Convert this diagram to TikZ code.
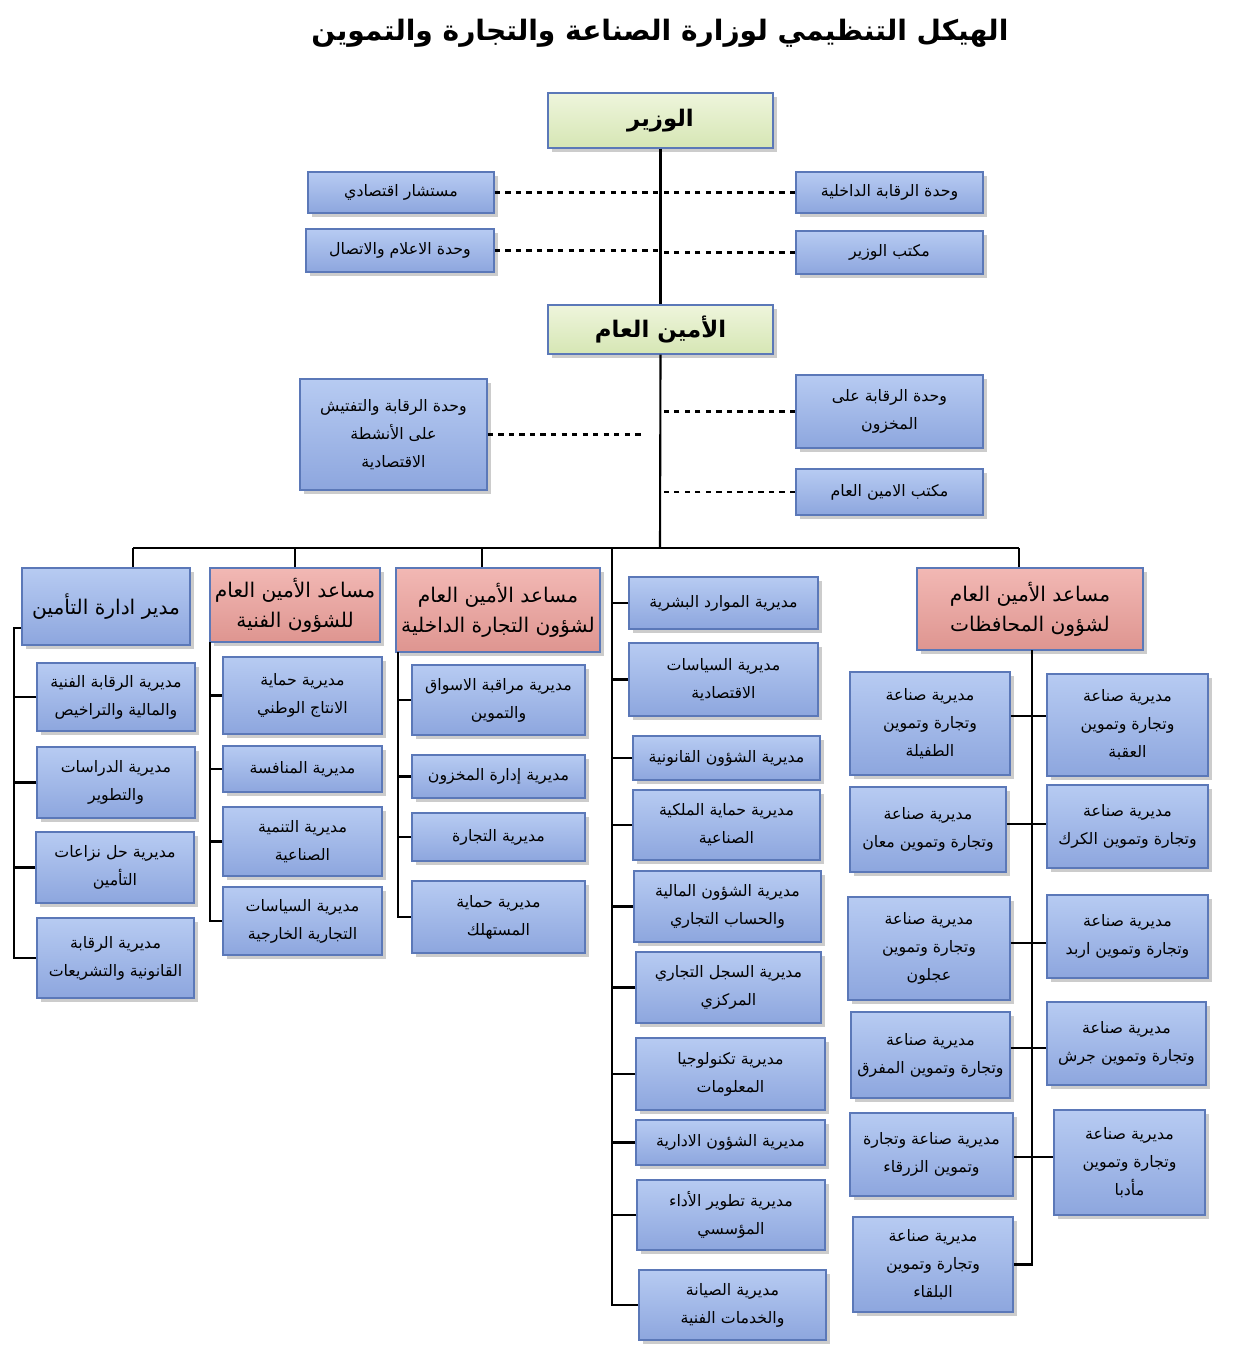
\documentclass[tikz,border=0pt]{standalone}
\usepackage{fontspec}
\newfontfamily\arfont[Script=Arabic]{DejaVu Sans}
\TeXXeTstate=1
\usetikzlibrary{shadows}
\definecolor{boxtop}{HTML}{B7CBF2}
\definecolor{boxbot}{HTML}{8DA6DE}
\definecolor{boxline}{HTML}{5B78B8}
\definecolor{greentop}{HTML}{EEF5DC}
\definecolor{greenbot}{HTML}{D6E6B4}
\definecolor{pinktop}{HTML}{F2B8B4}
\definecolor{pinkbot}{HTML}{DE9590}
\newcommand{\ar}[1]{\beginR #1\endR}
\newcommand{\bx}[7]{\node[#2, minimum width={(#5-#3)*0.02cm}, minimum height={(#6-#4)*0.02cm}] (#1) at ({(#3+#5)/2},{(#4+#6)/2}) {#7};}
\tikzset{
  base/.style={draw=boxline, line width=0.8pt, inner sep=0pt, align=center, drop shadow={shadow xshift=2pt, shadow yshift=-2pt, opacity=0.4}},
  bluebox/.style={base, top color=boxtop, bottom color=boxbot, font=\arfont\fontsize{9}{16}\selectfont},
  headbox/.style={bluebox, font=\arfont\fontsize{11.5}{17}\selectfont},
  pinkbox/.style={base, top color=pinktop, bottom color=pinkbot, font=\arfont\fontsize{11.5}{17}\selectfont},
  greenbox/.style={base, top color=greentop, bottom color=greenbot, font=\arfont\bfseries\fontsize{13}{16}\selectfont},
  link/.style={line width=1.2pt},
  dlink/.style={line width=1.2pt, dashed}
}
\begin{document}
\begin{tikzpicture}[x=0.02cm, y=-0.02cm]
\useasboundingbox (0,0) rectangle (1233,1365);
\node[font=\arfont\bfseries\fontsize{16}{18}\selectfont] (title) at (660,33) {\ar{الهيكل التنظيمي لوزارة الصناعة والتجارة والتموين}};

% top level
\bx{minister}{greenbox}{548}{93}{773}{148}{\ar{الوزير}}
\bx{sg}{greenbox}{548}{305}{773}{354}{\ar{الأمين العام}}
\bx{adv}{bluebox}{308}{172}{494}{213}{\ar{مستشار اقتصادي}}
\bx{intctl}{bluebox}{796}{172}{983}{213}{\ar{وحدة الرقابة الداخلية}}
\bx{media}{bluebox}{306}{229}{494}{272}{\ar{وحدة الاعلام والاتصال}}
\bx{office}{bluebox}{796}{231}{983}{274}{\ar{مكتب الوزير}}
\bx{inspect}{bluebox}{300}{379}{487}{490}{\ar{وحدة الرقابة والتفتيش}\\\ar{على الأنشطة}\\\ar{الاقتصادية}}
\bx{stock}{bluebox}{796}{375}{983}{448}{\ar{وحدة الرقابة على}\\\ar{المخزون}}
\bx{sgoffice}{bluebox}{796}{469}{983}{515}{\ar{مكتب الامين العام}}

\coordinate (hub) at (660,548);
\draw[link] (minister.south) -- (sg.north);
\draw[link] (sg.south) -- (hub);
\draw[dlink] (adv.east) -- (adv.east -| minister.south);
\draw[dlink] (intctl.west) -- (intctl.west -| minister.south);
\draw[dlink] (media.east) -- (media.east -| minister.south);
\draw[dlink] (office.west) -- (office.west -| minister.south);
\draw[dlink] (inspect.east) -- ++(158,0);
\draw[dlink] (stock.west) -- (stock.west -| sg.south);
\draw[dlink] (sgoffice.west) -- (sgoffice.west -| sg.south);

% branch heads
\bx{ins}{headbox}{22}{568}{190}{645}{\ar{مدير ادارة التأمين}}
\bx{tech}{pinkbox}{210}{568}{380}{642}{\ar{مساعد الأمين العام}\\\ar{للشؤون الفنية}}
\bx{trade}{pinkbox}{396}{568}{600}{652}{\ar{مساعد الأمين العام}\\\ar{لشؤون التجارة الداخلية}}
\bx{gov}{pinkbox}{917}{568}{1143}{650}{\ar{مساعد الأمين العام}\\\ar{لشؤون المحافظات}}
\coordinate (busL) at (133,548);
\coordinate (busR) at (1019,548);
\coordinate (mid) at (612,548);
\draw[link] (busL) -- (busR);
\draw[link] (busL) -- (busL |- ins.north);
\draw[link] (tech.north -| 295,0) -- (295,548);
\draw[link] (trade.north -| 482,0) -- (482,548);
\draw[link] (gov.north -| busR) -- (busR);

% insurance
\bx{i1}{bluebox}{37}{663}{195}{731}{\ar{مديرية الرقابة الفنية}\\\ar{والمالية والتراخيص}}
\bx{i2}{bluebox}{37}{747}{195}{818}{\ar{مديرية الدراسات}\\\ar{والتطوير}}
\bx{i3}{bluebox}{36}{832}{194}{903}{\ar{مديرية حل نزاعات}\\\ar{التأمين}}
\bx{i4}{bluebox}{37}{918}{194}{998}{\ar{مديرية الرقابة}\\\ar{القانونية والتشريعات}}
\coordinate (sI) at (14,628);
\draw[link] (ins.west |- sI) -- (sI) |- (i4.west);
\foreach \b in {i1,i2,i3} \draw[link] (\b.west) -- (\b.west -| sI);

% technical
\bx{t1}{bluebox}{223}{657}{382}{734}{\ar{مديرية حماية}\\\ar{الانتاج الوطني}}
\bx{t2}{bluebox}{223}{746}{382}{792}{\ar{مديرية المنافسة}}
\bx{t3}{bluebox}{223}{807}{382}{876}{\ar{مديرية التنمية}\\\ar{الصناعية}}
\bx{t4}{bluebox}{223}{887}{382}{955}{\ar{مديرية السياسات}\\\ar{التجارية الخارجية}}
\coordinate (sT) at (210,642);
\draw[link] (sT) |- (t4.west);
\foreach \b in {t1,t2,t3} \draw[link] (\b.west) -- (\b.west -| sT);

% internal trade
\bx{d1}{bluebox}{412}{665}{585}{735}{\ar{مديرية مراقبة الاسواق}\\\ar{والتموين}}
\bx{d2}{bluebox}{412}{755}{585}{798}{\ar{مديرية إدارة المخزون}}
\bx{d3}{bluebox}{412}{813}{585}{861}{\ar{مديرية التجارة}}
\bx{d4}{bluebox}{412}{881}{585}{953}{\ar{مديرية حماية}\\\ar{المستهلك}}
\coordinate (sD) at (398,652);
\draw[link] (sD) |- (d4.west);
\foreach \b in {d1,d2,d3} \draw[link] (\b.west) -- (\b.west -| sD);

% central directorates
\bx{c1}{bluebox}{629}{577}{818}{629}{\ar{مديرية الموارد البشرية}}
\bx{c2}{bluebox}{629}{643}{818}{716}{\ar{مديرية السياسات}\\\ar{الاقتصادية}}
\bx{c3}{bluebox}{633}{736}{820}{780}{\ar{مديرية الشؤون القانونية}}
\bx{c4}{bluebox}{633}{790}{820}{860}{\ar{مديرية حماية الملكية}\\\ar{الصناعية}}
\bx{c5}{bluebox}{634}{871}{821}{942}{\ar{مديرية الشؤون المالية}\\\ar{والحساب التجاري}}
\bx{c6}{bluebox}{636}{952}{821}{1023}{\ar{مديرية السجل التجاري}\\\ar{المركزي}}
\bx{c7}{bluebox}{636}{1038}{825}{1110}{\ar{مديرية تكنولوجيا}\\\ar{المعلومات}}
\bx{c8}{bluebox}{636}{1120}{825}{1165}{\ar{مديرية الشؤون الادارية}}
\bx{c9}{bluebox}{637}{1180}{825}{1250}{\ar{مديرية تطوير الأداء}\\\ar{المؤسسي}}
\bx{c10}{bluebox}{639}{1270}{826}{1340}{\ar{مديرية الصيانة}\\\ar{والخدمات الفنية}}
\draw[link] (mid) |- (c10.west);
\foreach \b in {c1,c2,c3,c4,c5,c6,c7,c8,c9} \draw[link] (\b.west) -- (\b.west -| mid);

% governorates
\bx{g1}{bluebox}{850}{672}{1010}{775}{\ar{مديرية صناعة}\\\ar{وتجارة وتموين}\\\ar{الطفيلة}}
\bx{g2}{bluebox}{1047}{674}{1208}{776}{\ar{مديرية صناعة}\\\ar{وتجارة وتموين}\\\ar{العقبة}}
\bx{g3}{bluebox}{850}{787}{1006}{872}{\ar{مديرية صناعة}\\\ar{وتجارة وتموين معان}}
\bx{g4}{bluebox}{1047}{785}{1208}{868}{\ar{مديرية صناعة}\\\ar{وتجارة وتموين الكرك}}
\bx{g5}{bluebox}{848}{897}{1010}{1000}{\ar{مديرية صناعة}\\\ar{وتجارة وتموين}\\\ar{عجلون}}
\bx{g6}{bluebox}{1047}{895}{1208}{978}{\ar{مديرية صناعة}\\\ar{وتجارة وتموين اربد}}
\bx{g7}{bluebox}{851}{1012}{1010}{1098}{\ar{مديرية صناعة}\\\ar{وتجارة وتموين المفرق}}
\bx{g8}{bluebox}{1047}{1002}{1206}{1085}{\ar{مديرية صناعة}\\\ar{وتجارة وتموين جرش}}
\bx{g9}{bluebox}{850}{1113}{1013}{1196}{\ar{مديرية صناعة وتجارة}\\\ar{وتموين الزرقاء}}
\bx{g10}{bluebox}{1054}{1110}{1205}{1215}{\ar{مديرية صناعة}\\\ar{وتجارة وتموين}\\\ar{مأدبا}}
\bx{g11}{bluebox}{853}{1217}{1013}{1312}{\ar{مديرية صناعة}\\\ar{وتجارة وتموين}\\\ar{البلقاء}}
\coordinate (sG) at (1032,650);
\draw[link] (sG) |- (g11.east);
\foreach \l/\r/\yy in {g1/g2/716,g3/g4/824,g5/g6/943,g7/g8/1048,g9/g10/1157}
  \draw[link] (\l.east |- 0,\yy) -- (\r.west |- 0,\yy);
\end{tikzpicture}
\end{document}
